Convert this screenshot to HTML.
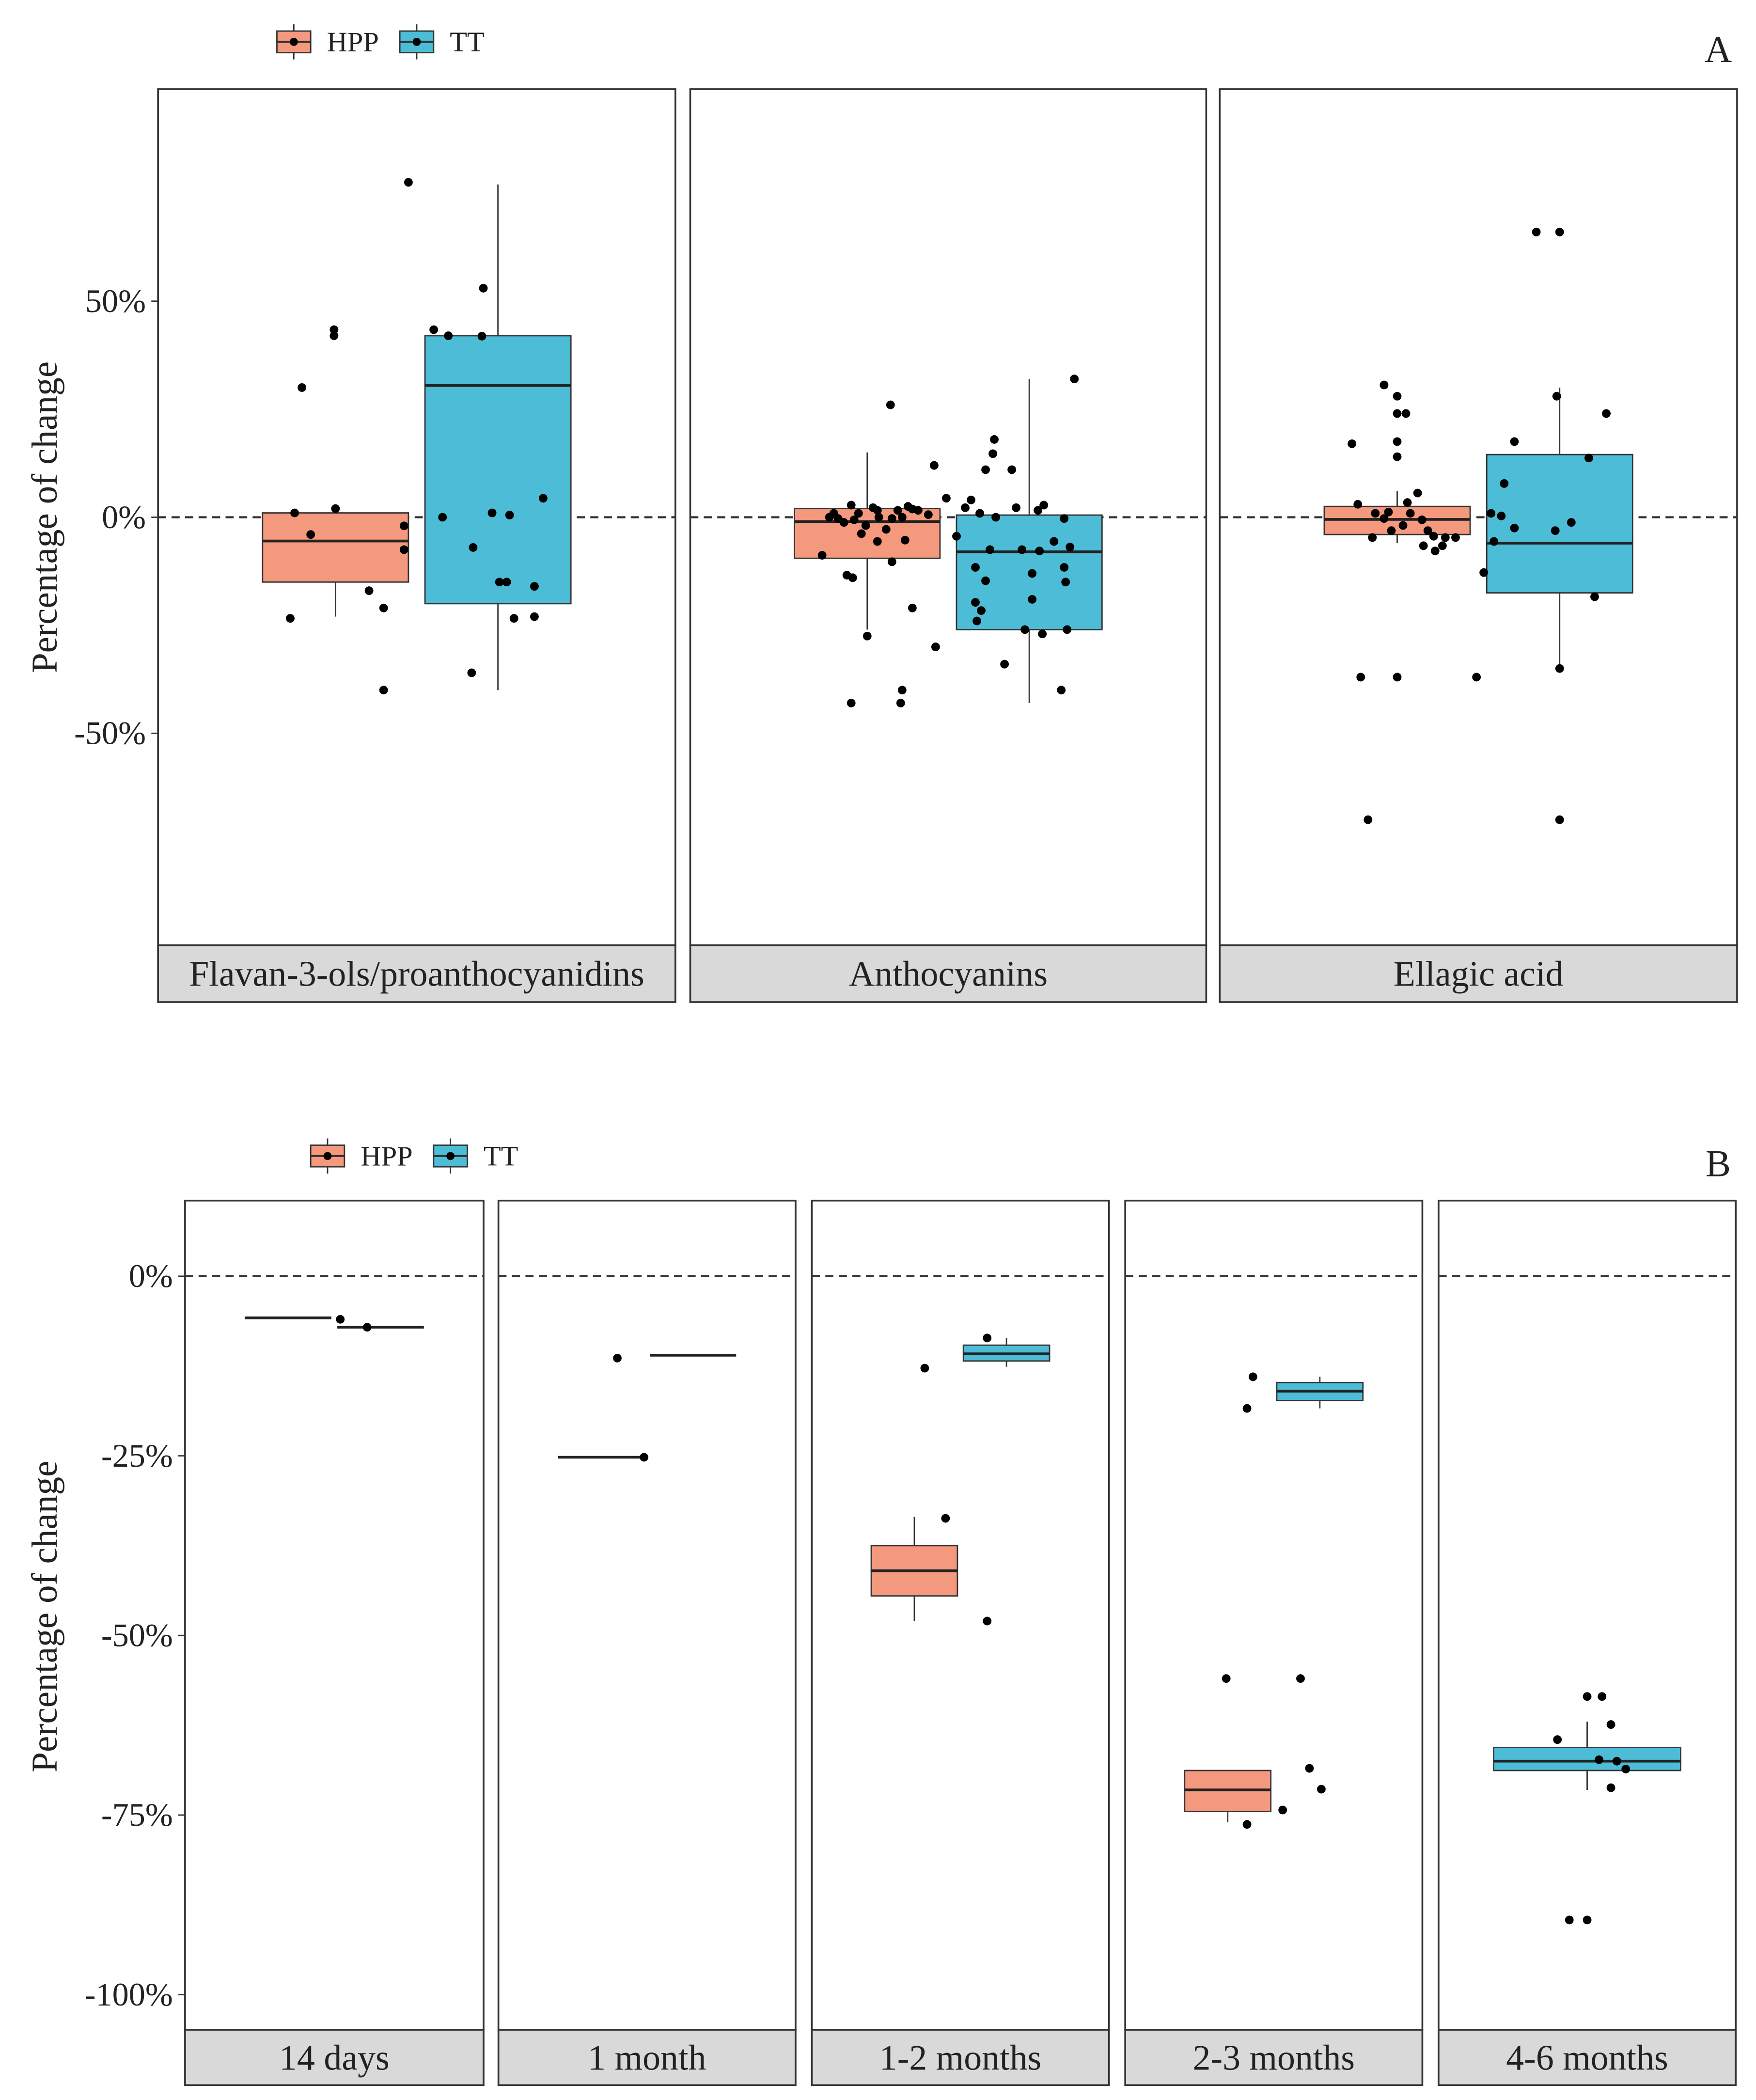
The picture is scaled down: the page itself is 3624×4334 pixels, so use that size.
<!DOCTYPE html>
<html><head><meta charset="utf-8">
<style>
html,body{margin:0;padding:0;background:#fff;}
svg{display:block;}
text{font-family:"Liberation Serif",serif;fill:#222;}
</style></head>
<body>
<svg id="fig" width="3624" height="4334" viewBox="0 0 1300 1555" preserveAspectRatio="none" xmlns="http://www.w3.org/2000/svg"></svg>
<script>
// ===== Data: Figure A =====
const catsA = ["Flavan-3-ols/proanthocyanidins","Anthocyanins","Ellagic acid"];
const ticksA = [50,0,-50];
// box stats [lowWhisker, q1, median, q3, highWhisker]
const boxHppA = [[-23,-15,-5.5,1,1],[-26,-9.5,-1,2,15],[-6,-4,-0.5,2.5,6]];
const boxTtA  = [[-40,-20,30.5,42,77],[-43,-26,-8,0.5,32],[-36,-17.5,-6,14.5,30]];
// points: values and jitter (box widths from group center)
const ptsHppA0 = [-23.4,30,1,-4,43.4,42,2,-17,-21,-40,-2,-7.5,77.5];
const jitHppA0 = [-0.31,-0.23,-0.28,-0.17,-0.01,-0.01,0,0.23,0.33,0.33,0.47,0.47,0.5];
const ptsTtA0 = [43.4,42,41.9,53,0,-7,1,0.5,-15,-15,-16,-23.4,-23,4.4,-36];
const jitTtA0 = [-0.44,-0.34,-0.11,-0.10,-0.38,-0.17,-0.04,0.08,0.01,0.06,0.25,0.11,0.25,0.31,-0.18];
const ptsHppA1 = [2.8,0,0.9,-0.6,-1.9,-1.2,0,0.9,1.6,-0.3,2.2,0,1.9,0.6,-2.8,-3.8,-5.3,-5.6,-8.8,-13.4,-14,-10.3,-21,-30,-27.5,-40,-43,-43,26,2.5,-0.3,1.6,1.6,12];
const jitHppA1 = [-0.11,-0.26,-0.23,-0.09,-0.01,-0.16,0.08,-0.06,0.07,0.17,0.04,0.24,0.31,0.42,0.13,-0.04,0.26,0.07,-0.31,-0.14,-0.10,0.17,0.31,0.47,0,0.24,0.23,-0.11,0.16,0.28,-0.2,0.21,0.35,0.46];
const ptsTtA1 = [2.2,0.9,0,2.2,4.4,4,11,14.7,18,11,32,2.8,-0.3,1.6,-7.5,-7.5,-7.8,-6.9,-11.6,-15,-11.6,-14.7,-13,-19.7,-24,-21.6,-26,-27,-26,-34,-40,-5.6,-4.4,-19];
const jitTtA1 = [-0.44,-0.34,-0.23,-0.09,-0.57,-0.4,-0.3,-0.25,-0.24,-0.12,0.31,0.1,0.24,0.06,-0.27,-0.05,0.07,0.28,0.24,0.25,-0.37,-0.3,0.02,-0.37,-0.36,-0.33,-0.03,0.09,0.26,-0.17,0.22,0.17,-0.5,0.02];
const ptsHppA2 = [-70,-37,-37,30.6,28,17,24,24,17.5,14,3,-4.7,-0.3,1.2,3.4,5.6,-1.9,-0.6,-4.4,-4.7,-6.6,-4.7,-3.1,-3.1,-6.6,-7.8,0.9,0.9];
const jitHppA2 = [-0.2,-0.25,0,-0.09,0,-0.31,0,0.06,0,0,-0.27,-0.17,-0.09,-0.06,0.07,0.14,0.04,0.17,0.25,0.33,0.31,0.4,0.21,-0.04,0.18,0.26,-0.15,0.09];
const ptsTtA2 = [66,66,28,24,17.5,13.7,7.8,0.9,0.3,-2.5,-3.1,-1.2,-5.6,-12.8,-18.4,-35,-37,-70];
const jitTtA2 = [-0.16,0,-0.02,0.32,-0.31,0.2,-0.38,-0.47,-0.4,-0.31,-0.03,0.08,-0.45,-0.52,0.24,0,-0.57,0];
const ptsHppA = [ptsHppA0,ptsHppA1,ptsHppA2], jitHppA=[jitHppA0,jitHppA1,jitHppA2];
const ptsTtA = [ptsTtA0,ptsTtA1,ptsTtA2], jitTtA=[jitTtA0,jitTtA1,jitTtA2];

// ===== Data: Figure B =====
const catsB = ["14 days","1 month","1-2 months","2-3 months","4-6 months"];
const ticksB = [0,-25,-50,-75,-100];
const boxHppB = [[-5.8,-5.8,-5.8,-5.8,-5.8],[-25.2,-25.2,-25.2,-25.2,-25.2],[-48,-44.5,-41,-37.5,-33.5],[-76,-74.5,-71.5,-68.8,-68.8],null];
const boxTtB  = [[-7.1,-7.1,-7.1,-7.1,-7.1],[-11,-11,-11,-11,-11],[-12.6,-11.8,-10.8,-9.6,-8.6],[-18.4,-17.3,-16,-14.8,-14],[-71.5,-68.8,-67.5,-65.6,-62]];
// points: values and jitter (panel widths from panel center)
const ptsB0 = [-6.0,-7.1], jitB0 = [0.02,0.11];
const ptsB1 = [-25.2,-11.4], jitB1 = [-0.01,-0.10];
const ptsB2 = [-12.8,-33.7,-48,-8.6], jitB2 = [-0.12,-0.05,0.09,0.09];
const ptsB3 = [-56,-56,-76.3,-74.3,-68.5,-71.4,-14,-18.4], jitB3 = [-0.16,0.09,-0.09,0.03,0.12,0.16,-0.07,-0.09];
const ptsB4 = [-58.5,-58.5,-64.5,-62.4,-67.3,-67.5,-68.6,-71.2,-89.6,-89.6], jitB4 = [0,0.05,-0.1,0.08,0.04,0.1,0.13,0.08,-0.06,0];
const ptsB = [ptsB0,ptsB1,ptsB2,ptsB3,ptsB4], jitB=[jitB0,jitB1,jitB2,jitB3,jitB4];

const HPP="#F4997D", TT="#4DBCD7", INK="#333";
const NS="http://www.w3.org/2000/svg";
const svg=document.getElementById('fig');
function el(tag,attrs,parent,txt){const e=document.createElementNS(NS,tag);for(const k in attrs)e.setAttribute(k,attrs[k]);if(txt!==undefined)e.textContent=txt;(parent||svg).appendChild(e);return e;}

function legend(x,y,g){
  const k1=el('g',{},g);
  
  
  key(x,y,HPP,k1);
  el('text',{x:x+37,y:y+7,'font-size':21},k1,'HPP');
  const k2=el('g',{},g);
  
  
  key(x+91,y,TT,k2);
  el('text',{x:x+128,y:y+7,'font-size':21},k2,'TT');
}
function key(x,y,c,g){
  el('line',{x1:x+12.5,x2:x+12.5,y1:y-13,y2:y+13,stroke:INK,'stroke-width':1},g);
  el('rect',{x:x,y:y-8,width:25,height:16,fill:c,stroke:INK,'stroke-width':1},g);
  el('line',{x1:x,x2:x+25,y1:y,y2:y,stroke:INK,'stroke-width':1.5},g);
  el('circle',{cx:x+12.5,cy:y,r:3},g);
}

function drawBox(g,cx,w,s,y,c,name){
  const b=el('g',{},g);
  
  
  el('line',{x1:cx,x2:cx,y1:y(s[4]),y2:y(s[0]),stroke:INK,'stroke-width':1},b);
  const h=Math.max(y(s[1])-y(s[3]),0);
  if(h>0.5) el('rect',{x:cx-w/2,y:y(s[3]),width:w,height:h,fill:c,stroke:INK,'stroke-width':1},b);
  el('line',{x1:cx-w/2,x2:cx+w/2,y1:y(s[2]),y2:y(s[2]),stroke:'#222','stroke-width':2},b);
}

function facet(cfg){
  const g=el('g',{});
  
  
  const ax=el('g',{},g);
  
  
  cfg.ticks.forEach(t=>{
    el('line',{x1:cfg.xs[0][0]-5,x2:cfg.xs[0][0],y1:cfg.y(t),y2:cfg.y(t),stroke:INK,'stroke-width':1},ax);
    el('text',{x:cfg.xs[0][0]-9,y:cfg.y(t)+8,'font-size':24.5,'text-anchor':'end'},ax,t+'%');
  });
  const yt=el('text',{x:0,y:0,'font-size':27,'text-anchor':'middle',transform:`translate(${cfg.titleX},${cfg.titleY}) rotate(-90)`},g,'Percentage of change');
  
  
  cfg.cats.forEach((cat,i)=>{
    const [x0,x1]=cfg.xs[i], pw=x1-x0, cx=(x0+x1)/2;
    const p=el('g',{},g);
    
    
    el('rect',{x:x0,y:cfg.top,width:pw,height:cfg.bot-cfg.top,fill:'#fff',stroke:INK,'stroke-width':1.3},p);
    el('line',{x1:x0,x2:x1,y1:cfg.y(0),y2:cfg.y(0),stroke:INK,'stroke-width':1.5,'stroke-dasharray':'6,4'},p);
    cfg.drawData(p,i,x0,pw,cx);
    const st=el('g',{},p);
    
    
    el('rect',{x:x0,y:cfg.bot,width:pw,height:cfg.strip-cfg.bot,fill:'#D9D9D9',stroke:INK,'stroke-width':1.3},st);
    el('text',{x:cx,y:(cfg.bot+cfg.strip)/2+9,'font-size':26.5,'text-anchor':'middle'},st,cat);
  });
}

// ---- Figure A ----
const yA=v=>383-3.2*v;
facet({name:'panel-a',cats:catsA,ticks:ticksA,y:yA,top:66,bot:700,strip:742,titleX:42,titleY:383,
  xs:[[117,500],[511,893],[903,1286]],
  drawData:(p,i,x0,pw,cx)=>{
    const w=pw*0.282, d=pw*0.157;
    drawBox(p,cx-d,w,boxHppA[i],yA,HPP,'box-hpp');
    drawBox(p,cx+d,w,boxTtA[i],yA,TT,'box-tt');
    ptsHppA[i].forEach((v,k)=>{const c=el('circle',{cx:cx-d+jitHppA[i][k]*w,cy:yA(v),r:3.2},p);
      
      });
    ptsTtA[i].forEach((v,k)=>{const c=el('circle',{cx:cx+d+jitTtA[i][k]*w,cy:yA(v),r:3.2},p);
      
      });
  }});
const lgA=el('g',{});


legend(205,31,lgA);
const la=el('text',{x:1272,y:46,'font-size':28,'text-anchor':'middle'},svg,'A');



// ---- Figure B ----
const yB=v=>945-5.32*v;
facet({name:'panel-b',cats:catsB,ticks:ticksB,y:yB,top:889,bot:1503,strip:1544,titleX:42,titleY:1197,
  xs:[[137,358],[369,589],[601,821],[833,1053],[1065,1285]],
  drawData:(p,i,x0,pw,cx)=>{
    const w=pw*0.29, d=pw*0.155;
    if(boxHppB[i]) drawBox(p,cx-d,w,boxHppB[i],yB,HPP,'box-hpp');
    if(boxHppB[i]) drawBox(p,cx+d,w,boxTtB[i],yB,TT,'box-tt');
    else drawBox(p,cx,w*2.17,boxTtB[i],yB,TT,'box-tt');
    ptsB[i].forEach((v,k)=>{const c=el('circle',{cx:cx+jitB[i][k]*pw,cy:yB(v),r:3.2},p);
      
      });
  }});
const lgB=el('g',{});


legend(230,856,lgB);
const lb=el('text',{x:1272,y:871,'font-size':28,'text-anchor':'middle'},svg,'B');


</script>
</body></html>
